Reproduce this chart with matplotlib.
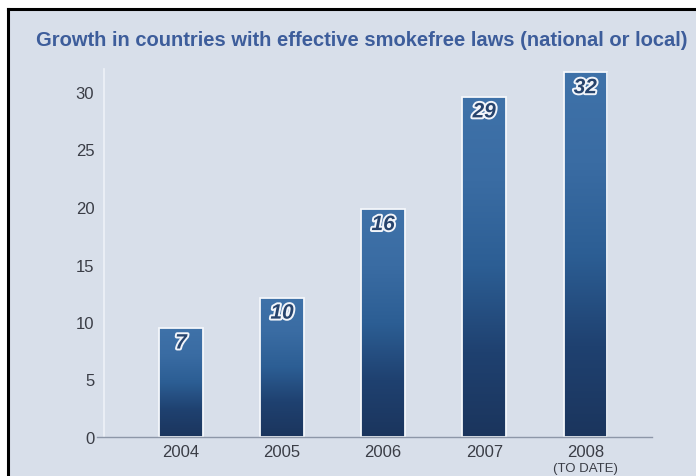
import numpy as np
import matplotlib
matplotlib.use("Agg")
import matplotlib.pyplot as plt
import matplotlib.patheffects as pe
from matplotlib.colors import LinearSegmentedColormap
from matplotlib.lines import Line2D
from matplotlib.patches import Rectangle

plt.rcParams["font.family"] = ["Liberation Sans", "DejaVu Sans"]

# data (bar heights as drawn, labels as printed)
years       = ["2004", "2005", "2006", "2007", "2008"]
year_notes  = ["", "", "", "", "(TO DATE)"]
bar_heights = [9.5, 12.1, 19.8, 29.6, 31.7]
bar_labels  = ["7", "10", "16", "29", "32"]
y_ticks     = [0, 5, 10, 15, 20, 25, 30]

TITLE = "Growth in countries with effective smokefree laws (national or local)"

W, H = 696, 477
fig = plt.figure(figsize=(W / 100, H / 100), dpi=100, facecolor="white")

# panel background + black frame on top and left
fig.add_artist(Rectangle((8 / W, 0), 1 - 8 / W, 1 - 11 / H, transform=fig.transFigure,
                         facecolor="#d8dfea", edgecolor="none", zorder=0))
fig.add_artist(Line2D([8 / W, 8 / W], [0, 1 - 10 / H], transform=fig.transFigure,
                      color="black", linewidth=2.2))
fig.add_artist(Line2D([8 / W, 1], [1 - 10 / H, 1 - 10 / H], transform=fig.transFigure,
                      color="black", linewidth=2.2))

fig.text(362 / W, 1 - 40 / H, TITLE, ha="center", va="center",
         fontsize=14.5, fontweight="bold", color="#3d5d9b")

# axes placement (pixels measured on the reference)
left, right, bottom, top = 104, 652, 438, 70
ax = fig.add_axes([left / W, 1 - bottom / H, (right - left) / W, (bottom - top) / H])
ax.set_facecolor("none")

x = np.arange(len(years))
ax.set_xlim(-0.762, 4.66)
ax.set_ylim(0, 32)

bars = ax.bar(x, bar_heights, width=0.43, color="none", edgecolor="#f4f7fb",
              linewidth=1.3, zorder=3)

cmap = LinearSegmentedColormap.from_list(
    "barfade", ["#1b355d", "#1f4170", "#2c5e94", "#3a6ca3", "#3f72a9"])
grad = np.linspace(0, 1, 256).reshape(-1, 1)
for b in bars:
    x0, w, h = b.get_x(), b.get_width(), b.get_height()
    im = ax.imshow(grad, cmap=cmap, origin="lower", aspect="auto",
                   extent=(x0, x0 + w, 0, h), zorder=2)
    im.set_clip_path(b)

for xi, h, lab in zip(x, bar_heights, bar_labels):
    ax.annotate(lab, xy=(xi, h), xytext=(0, -11), textcoords="offset points",
                ha="center", va="center", fontsize=15, fontweight="bold",
                fontstyle="italic", color="#27446d", zorder=5,
                path_effects=[pe.withStroke(linewidth=2.8, foreground="#f2f5fa")])

ax.set_xticks(x)
ax.set_xticklabels(years, fontsize=12, color="#3a3d46")
for xi, note in zip(x, year_notes):
    if note:
        ax.annotate(note, xy=(xi, 0), xytext=(0, -22.5), textcoords="offset points",
                    ha="center", va="center", fontsize=9.5, color="#3a3d46",
                    annotation_clip=False)
ax.set_yticks(y_ticks)
ax.set_yticklabels([str(t) for t in y_ticks], fontsize=12, color="#3a3d46")
ax.tick_params(axis="both", length=0)
ax.tick_params(axis="y", pad=7)
ax.tick_params(axis="x", pad=5)

for s in ["top", "right", "bottom"]:
    ax.spines[s].set_visible(False)
ax.spines["left"].set_color("#eef2f8")
ax.spines["left"].set_linewidth(1.2)
ax.spines["left"].set_zorder(1)

# baseline running slightly past the y axis
ax.axhline(0, xmin=-0.013, xmax=1.0, color="#8d97a8", linewidth=1.0,
           clip_on=False, zorder=4)

fig.savefig("out.png", dpi=100, facecolor=fig.get_facecolor())
